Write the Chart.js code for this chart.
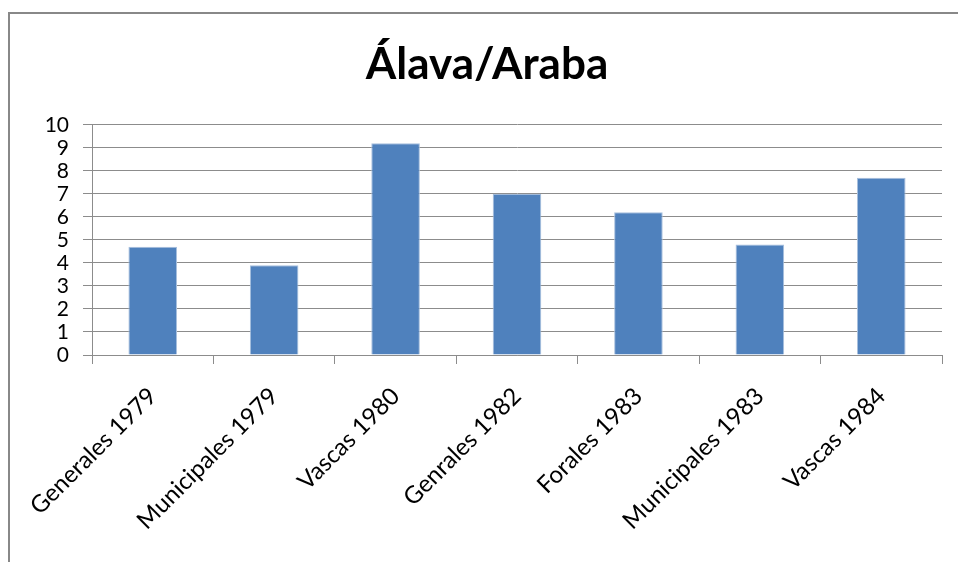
<!DOCTYPE html>
<html>
<head>
<meta charset="utf-8">
<script src="https://cdn.jsdelivr.net/npm/chart.js@4"></script>
<style>
  html, body { margin: 0; padding: 0; background: #fff; }
  #wrap { width: 958px; height: 562px; }
</style>
</head>
<body>
<div id="wrap"><canvas id="chart" width="958" height="562"></canvas></div>
<script>
// Elecciones - Álava/Araba
const categories = ['Generales 1979', 'Municipales 1979', 'Vascas 1980', 'Genrales 1982', 'Forales 1983', 'Municipales 1983', 'Vascas 1984'];
const values = [4.7, 3.9, 9.2, 7.0, 6.2, 4.8, 7.7];
const yTicks = [0, 1, 2, 3, 4, 5, 6, 7, 8, 9, 10];

const FONT = 'Lato, Calibri, "DejaVu Sans", sans-serif';
const GRID = '#8c8c8c';

// marco gris del gráfico (como en Excel)
const framePlugin = {
  id: 'frame',
  beforeDraw(chart) {
    const ctx = chart.ctx;
    ctx.save();
    ctx.fillStyle = '#fff';
    ctx.fillRect(0, 0, chart.width, chart.height);
    ctx.strokeStyle = '#888';
    ctx.lineWidth = 2;
    ctx.strokeRect(9, 13, 1200, 800);
    ctx.restore();
  }
};

new Chart(document.getElementById('chart'), {
  type: 'bar',
  data: {
    labels: categories,
    datasets: [{
      data: values,
      backgroundColor: '#4f81bd',
      borderColor: '#a7bfdd',
      borderWidth: 1,
      categoryPercentage: 1,
      barPercentage: 0.4
    }]
  },
  options: {
    responsive: false,
    animation: false,
    layout: { padding: { left: 32, right: 16, top: 0, bottom: 0 } },
    plugins: {
      legend: { display: false },
      tooltip: { enabled: false },
      title: {
        display: true,
        text: 'Álava/Araba',
        color: '#000',
        font: { family: FONT, size: 44, weight: 'bold' },
        padding: { top: 38, bottom: 34 }
      }
    },
    scales: {
      x: {
        grid: { drawOnChartArea: false, drawTicks: true, tickLength: 9, color: GRID, offset: true },
        border: { color: GRID, width: 1 },
        ticks: {
          color: '#000',
          font: { family: FONT, size: 24 },
          maxRotation: 45,
          minRotation: 45,
          autoSkip: false,
          padding: 18
        },
        afterFit: s => { s.height = 207; }
      },
      y: {
        min: 0,
        max: 10,
        afterBuildTicks: s => { s.ticks = yTicks.map(v => ({ value: v })); },
        grid: { color: GRID, tickLength: 9 },
        border: { color: GRID, width: 1 },
        ticks: {
          color: '#000',
          font: { family: FONT, size: 21 },
          autoSkip: false,
          padding: 14
        },
        afterFit: s => { s.width = 60; }
      }
    }
  },
  plugins: [framePlugin]
});
</script>
</body>
</html>
